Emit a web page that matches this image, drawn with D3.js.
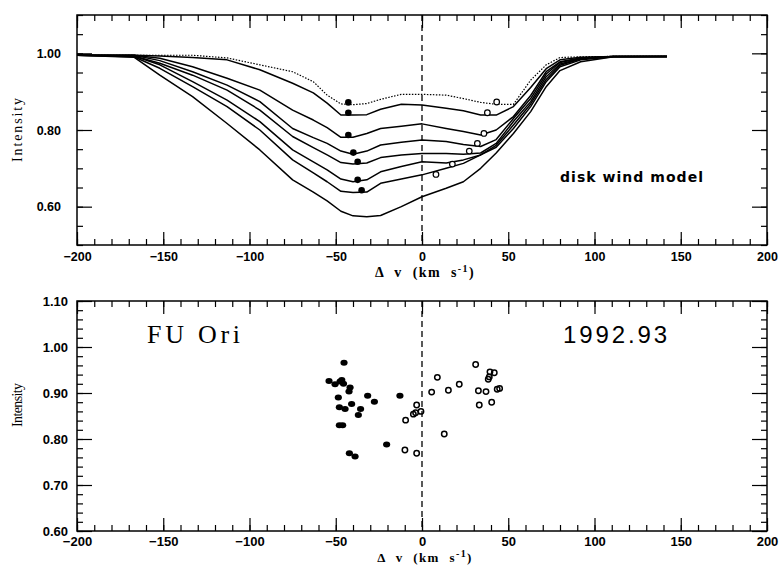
<!DOCTYPE html>
<html><head><meta charset="utf-8">
<script src="https://cdn.jsdelivr.net/npm/d3@7"></script>
<style>body{margin:0;background:#fff}</style>
</head><body>
<svg id="c" width="783" height="565"></svg>
<script>
// ---------- data ----------
const velocityGrid = [-200,-167,-152,-133,-113,-94,-75,-63,-55,-47,-40,-32,-24,-12,0,14,24,34,43,53,63,72,80,92,111,142];
const modelDotted = [0.995,0.995,0.995,0.995,0.988,0.970,0.952,0.926,0.891,0.868,0.866,0.869,0.880,0.893,0.893,0.891,0.882,0.872,0.867,0.867,0.930,0.970,0.989,0.991,0.992,0.992];
const model1 = [0.995,0.995,0.993,0.989,0.983,0.957,0.922,0.897,0.870,0.839,0.839,0.840,0.854,0.867,0.865,0.857,0.850,0.839,0.839,0.861,0.911,0.960,0.983,0.990,0.992,0.992];
const model2 = [0.995,0.995,0.987,0.965,0.935,0.904,0.852,0.826,0.806,0.781,0.781,0.791,0.804,0.810,0.816,0.804,0.796,0.787,0.800,0.835,0.890,0.952,0.978,0.988,0.992,0.992];
const model3 = [0.995,0.995,0.981,0.952,0.917,0.874,0.804,0.780,0.765,0.745,0.737,0.745,0.761,0.768,0.774,0.770,0.762,0.757,0.775,0.830,0.882,0.946,0.976,0.987,0.992,0.992];
const model4 = [0.995,0.993,0.974,0.943,0.904,0.852,0.783,0.754,0.735,0.715,0.711,0.714,0.728,0.735,0.739,0.739,0.737,0.740,0.765,0.822,0.874,0.939,0.972,0.986,0.992,0.992];
const model5 = [0.995,0.993,0.970,0.926,0.878,0.822,0.748,0.717,0.696,0.672,0.665,0.670,0.691,0.705,0.717,0.714,0.722,0.735,0.760,0.813,0.868,0.932,0.969,0.985,0.992,0.992];
const model6 = [0.995,0.991,0.961,0.913,0.861,0.800,0.722,0.688,0.665,0.640,0.637,0.638,0.661,0.672,0.683,0.700,0.713,0.735,0.755,0.804,0.861,0.926,0.965,0.983,0.991,0.992];
const model7 = [0.995,0.990,0.943,0.887,0.817,0.748,0.670,0.638,0.615,0.588,0.576,0.574,0.577,0.600,0.626,0.648,0.665,0.700,0.740,0.791,0.848,0.913,0.955,0.978,0.991,0.992];
const modelBlueV  = [-42.7,-42.7,-42.7,-39.8,-37.3,-37.3,-35.0];
const modelBlueI  = [0.872,0.845,0.787,0.741,0.717,0.670,0.643];
const modelRedV   = [43.3,37.9,35.9,32.1,27.4,17.6,8.1];
const modelRedI   = [0.873,0.845,0.791,0.765,0.745,0.711,0.684];
const obsBlueV = [-45.2,-53.9,-50.4,-47.5,-46.5,-45.5,-41.7,-42.3,-48.5,-31.5,-27.6,-40.8,-47.9,-44.6,-35.6,-36.9,-47.9,-46.0,-12.8,-20.5,-42.1,-38.8];
const obsBlueI = [0.966,0.926,0.919,0.925,0.928,0.920,0.912,0.903,0.890,0.894,0.881,0.876,0.869,0.865,0.865,0.852,0.830,0.830,0.894,0.788,0.769,0.762];
const obsRedV = [31.1,39.4,41.9,39.0,38.4,8.9,21.6,5.6,15.3,32.7,37.1,43.6,45.0,33.2,40.4,-3.1,-5.0,-3.7,-0.6,-9.5,12.9,-9.9,-3.1];
const obsRedI = [0.962,0.946,0.944,0.935,0.930,0.934,0.919,0.902,0.906,0.905,0.903,0.908,0.910,0.874,0.880,0.874,0.854,0.857,0.860,0.841,0.811,0.776,0.769];
const xTickValues = [-200,-150,-100,-50,0,50,100,150,200];
const topYTickValues = [0.60,0.80,1.00];
const botYTickValues = [0.60,0.70,0.80,0.90,1.00,1.10];
const topLabel = "disk wind model";
const objectLabel = "FU Ori";
const epochLabel = "1992.93";

// ---------- drawing ----------
const svg = d3.select("#c");
svg.append("rect").attr("width",783).attr("height",565).attr("fill","#fff");
const L = 77, R = 767;
const x = d3.scaleLinear().domain([-200,200]).range([L,R]);
const yTop = d3.scaleLinear().domain([0.5,1.1]).range([245,15]);
const yBot = d3.scaleLinear().domain([0.6,1.1]).range([531,301]);

function panel(y, yMajor, yMinor, o) {
  const g = svg.append("g");
  const [b,t] = y.range();
  const xMinor = d3.range(-200,201,10);
  const fmtX = d3.format("d"), fmtY = d3.format(".2f");
  const style = sel => { sel.select(".domain").remove(); sel.selectAll("line").attr("stroke","#000").attr("stroke-width",1.2);
    sel.selectAll("text").attr("fill","#000").attr("font-family","'Liberation Sans',Arial,sans-serif").attr("font-weight","bold").attr("font-size",o.fs); };
  g.append("g").attr("transform",`translate(0,${b})`).call(d3.axisBottom(x).tickValues(xMinor).tickSize(-6).tickFormat("")).call(style);
  g.append("g").attr("transform",`translate(0,${b})`).call(d3.axisBottom(x).tickValues(xTickValues).tickSize(-13).tickPadding(o.xPad).tickFormat(fmtX)).call(style);
  g.append("g").attr("transform",`translate(0,${t})`).call(d3.axisTop(x).tickValues(xMinor).tickSize(-6).tickFormat("")).call(style);
  g.append("g").attr("transform",`translate(0,${t})`).call(d3.axisTop(x).tickValues(xTickValues).tickSize(-13).tickFormat("")).call(style);
  g.append("g").attr("transform",`translate(${L},0)`).call(d3.axisLeft(y).tickValues(yMinor).tickSize(-6).tickFormat("")).call(style);
  g.append("g").attr("transform",`translate(${L},0)`).call(d3.axisLeft(y).tickValues(yMajor).tickSize(-15).tickPadding(o.yPad).tickFormat(fmtY)).call(style);
  g.append("g").attr("transform",`translate(${R},0)`).call(d3.axisRight(y).tickValues(yMinor).tickSize(-6).tickFormat("")).call(style);
  g.append("g").attr("transform",`translate(${R},0)`).call(d3.axisRight(y).tickValues(yMajor).tickSize(-15).tickFormat("")).call(style);
  g.append("rect").attr("x",L).attr("y",t).attr("width",R-L).attr("height",b-t).attr("fill","none").attr("stroke","#000").attr("stroke-width",1.5);
  g.append("line").attr("x1",x(0)).attr("x2",x(0)).attr("y1",t).attr("y2",b).attr("stroke","#000").attr("stroke-width",1.3).attr("stroke-dasharray","6,4");
  // x title
  const tt = g.append("text").attr("x",x(0)+3).attr("y",o.titleY).attr("text-anchor","middle")
    .attr("font-family","'Liberation Serif','Times New Roman',serif").attr("font-weight","bold").attr("font-size",o.titleFs)
    .attr("letter-spacing",1.4).attr("word-spacing",5);
  tt.append("tspan").text("\u0394 v (km s");
  tt.append("tspan").attr("dy",-5).attr("font-size",10).text("-1");
  tt.append("tspan").attr("dy",5).text(")");
  // y title
  svg.append("text").attr("transform",`translate(${o.yLabX},${o.yLabY}) rotate(-90)`).attr("text-anchor","middle")
    .attr("font-family","'Liberation Serif','Times New Roman',serif").attr("font-size",14)
    .attr("textLength",o.yLabLen).attr("lengthAdjust","spacing").text("Intensity");
  return g;
}

const tickTop = d3.range(0.5,1.1001,0.05).map(d=>+d.toFixed(3));
const tickBot = d3.range(0.6,1.1001,0.02).map(d=>+d.toFixed(3));
panel(yTop, topYTickValues, tickTop, {fs:12.5, xPad:7, yPad:16, titleY:277, titleFs:14, yLabX:22, yLabY:130, yLabLen:64});
panel(yBot, botYTickValues, tickBot, {fs:13, xPad:6, yPad:9, titleY:562, titleFs:13, yLabX:22, yLabY:405, yLabLen:44});

// model curves
const curves = [model1,model2,model3,model4,model5,model6,model7];
const line = d3.line().x(d=>x(d[0])).y(d=>yTop(d[1]));
const gc = svg.append("g");
gc.append("path").datum(velocityGrid.map((v,i)=>[v,modelDotted[i]])).attr("d",line)
  .attr("fill","none").attr("stroke","#000").attr("stroke-width",1.2).attr("stroke-dasharray","1.5,1.5");
curves.forEach(c=>{
  gc.append("path").datum(velocityGrid.map((v,i)=>[v,c[i]])).attr("d",line)
    .attr("fill","none").attr("stroke","#000").attr("stroke-width",1.5).attr("stroke-linejoin","round");
});
gc.selectAll("circle.b").data(modelBlueV.map((v,i)=>[v,modelBlueI[i]])).join("circle")
  .attr("cx",d=>x(d[0])).attr("cy",d=>yTop(d[1])).attr("r",3.3).attr("fill","#000");
gc.selectAll("circle.r").data(modelRedV.map((v,i)=>[v,modelRedI[i]])).enter().append("circle")
  .attr("cx",d=>x(d[0])).attr("cy",d=>yTop(d[1])).attr("r",2.8).attr("fill","#fff").attr("stroke","#000").attr("stroke-width",1.2);
svg.append("text").attr("x",560).attr("y",182).attr("font-family","'DejaVu Sans',Arial,sans-serif")
  .attr("font-weight","bold").attr("font-size",14).attr("textLength",143).attr("lengthAdjust","spacing").text(topLabel);

// observations
const go = svg.append("g");
go.selectAll("ellipse").data(obsBlueV.map((v,i)=>[v,obsBlueI[i]])).join("ellipse")
  .attr("cx",d=>x(d[0])).attr("cy",d=>yBot(d[1])).attr("rx",3.6).attr("ry",3).attr("fill","#000");
go.selectAll("circle").data(obsRedV.map((v,i)=>[v,obsRedI[i]])).join("circle")
  .attr("cx",d=>x(d[0])).attr("cy",d=>yBot(d[1])).attr("r",2.7).attr("fill","none").attr("stroke","#000").attr("stroke-width",1.5);
svg.append("text").attr("x",147).attr("y",343).attr("font-family","'Liberation Serif','Times New Roman',serif")
  .attr("font-size",26).attr("textLength",93).attr("lengthAdjust","spacing").text(objectLabel);
svg.append("text").attr("x",563).attr("y",343).attr("font-family","'Liberation Sans',Arial,sans-serif")
  .attr("font-size",24).attr("textLength",104).attr("lengthAdjust","spacing").text(epochLabel);
</script>
</body></html>
